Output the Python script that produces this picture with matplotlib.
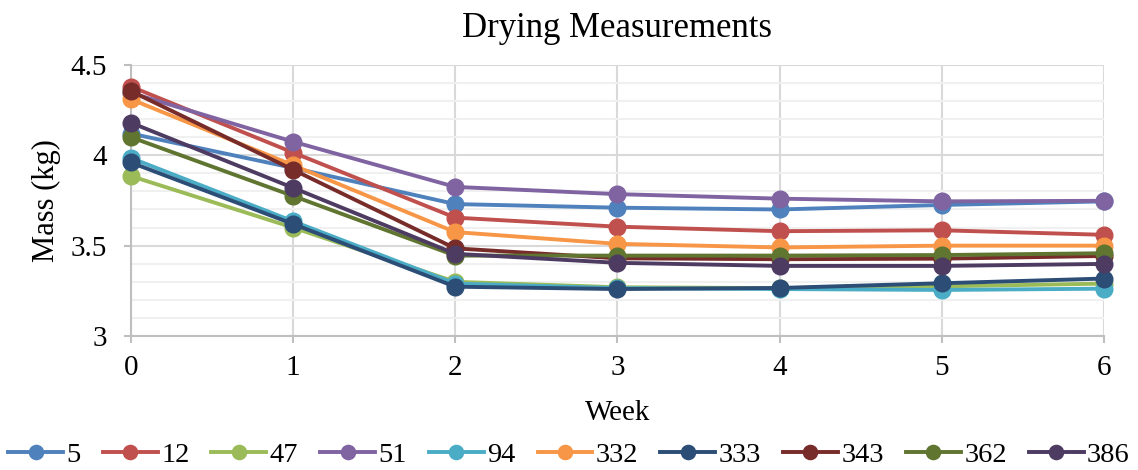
import matplotlib.pyplot as plt
from matplotlib.ticker import MultipleLocator

# Weekly mass readings per sample (kg)
weeks = [0, 1, 2, 3, 4, 5, 6]
samples = ['5', '12', '47', '51', '94', '332', '333', '343', '362', '386']

mass_5 = [4.12, 3.93, 3.73, 3.71, 3.70, 3.725, 3.745]
mass_12 = [4.38, 4.015, 3.655, 3.605, 3.58, 3.585, 3.56]
mass_47 = [3.885, 3.60, 3.30, 3.27, 3.265, 3.275, 3.29]
mass_51 = [4.345, 4.075, 3.825, 3.785, 3.76, 3.745, 3.748]
mass_94 = [3.985, 3.635, 3.29, 3.265, 3.26, 3.255, 3.262]
mass_332 = [4.31, 3.945, 3.575, 3.51, 3.49, 3.50, 3.50]
mass_333 = [3.96, 3.62, 3.273, 3.26, 3.266, 3.292, 3.318]
mass_343 = [4.355, 3.92, 3.485, 3.43, 3.425, 3.428, 3.443]
mass_362 = [4.10, 3.775, 3.445, 3.445, 3.445, 3.448, 3.458]
mass_386 = [4.18, 3.82, 3.455, 3.405, 3.388, 3.388, 3.399]

series = [mass_5, mass_12, mass_47, mass_51, mass_94,
          mass_332, mass_333, mass_343, mass_362, mass_386]
colors = ['#4F81BD', '#C0504D', '#9BBB59', '#8064A2', '#4BACC6',
          '#F79646', '#2C4D75', '#772C2A', '#5F7530', '#4D3B62']

plt.rcParams['font.family'] = ['Liberation Serif', 'DejaVu Serif']

fig = plt.figure(figsize=(11.38, 4.7), dpi=100)
ax = fig.add_axes([0.115, 0.285, 0.855, 0.577])

for name, vals, c in zip(samples, series, colors):
    ax.plot(weeks, vals, color=c, linewidth=2.8, marker='o',
            markersize=12, label=name, zorder=3, clip_on=False)

ax.set_xlim(0, 6)
ax.set_ylim(3, 4.5)
ax.set_xticks(weeks)
ax.yaxis.set_minor_locator(MultipleLocator(0.1))
ax.set_yticks([3, 3.5, 4, 4.5])
ax.set_yticklabels(['3', '3.5', '4', '4.5'])

ax.grid(True, which='major', color='#D9D9D9', linewidth=1.5, zorder=0)
ax.grid(True, which='minor', axis='y', color='#F0F0F0', linewidth=1.5, zorder=0)
ax.set_axisbelow(True)

for side in ['top', 'right']:
    ax.spines[side].set_visible(False)
for side in ['left', 'bottom']:
    ax.spines[side].set_color('#BFBFBF')
    ax.spines[side].set_linewidth(1.5)

ax.tick_params(which='major', length=5, width=1.5, color='#BFBFBF',
               labelsize=21)
ax.tick_params(axis='x', pad=9)
ax.tick_params(axis='y', pad=12)
ax.tick_params(which='minor', length=0)

ax.set_title('Drying Measurements', fontsize=25, pad=20)
ax.set_xlabel('Week', fontsize=21, labelpad=13)
ax.set_ylabel('Mass (kg)', fontsize=22, labelpad=7)

fig.legend(loc='center', bbox_to_anchor=(0.5, 0.032), ncol=10,
           frameon=False, fontsize=20.5, handlelength=1.93, handletextpad=0.12,
           columnspacing=0.77, markerscale=0.85, borderpad=0, borderaxespad=0)

fig.savefig('out.png', dpi=100)
